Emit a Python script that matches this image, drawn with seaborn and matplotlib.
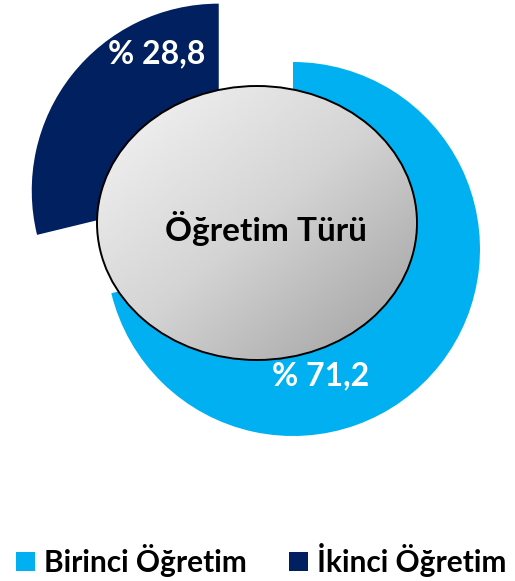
import numpy as np
import matplotlib.pyplot as plt
import seaborn as sns
from matplotlib.patches import Ellipse, Patch
from matplotlib.colors import LinearSegmentedColormap

# data
categories = ["Birinci Öğretim", "İkinci Öğretim"]
shares = [71.2, 28.8]
pct_labels = ["% 71,2", "% 28,8"]
center_title = "Öğretim Türü"

sns.set_theme(style="white")
plt.rcParams['font.family'] = ['Lato', 'DejaVu Sans']
plt.rcParams['text.color'] = 'black'
colors = sns.color_palette(["#00B0F0", "#002060"])

W, H = 515, 581
R = 187.0          # pie radius in pixels
cx, cy = 293, 249  # pie center in pixels


def px(x, y):
    # pixel position -> data coords of the pie axes
    return (x - cx) / R, (cy - y) / R


fig = plt.figure(figsize=(W / 100, H / 100), dpi=100)
ax = fig.add_axes([0, 0, 1, 1])

wedges, _ = ax.pie(shares, colors=colors, startangle=90, counterclock=False,
                   explode=[0, 0.505], radius=1,
                   wedgeprops=dict(linewidth=0))
ax.set_aspect('equal')
ax.axis('off')

# grey gradient ellipse in the middle
ex, ey = px(257, 223)
ew, eh = 320 / R, 274 / R
ell = Ellipse((ex, ey), ew, eh, facecolor='none', edgecolor='black',
              linewidth=1.4, zorder=4)
ax.add_patch(ell)
gx, gy = np.meshgrid(np.linspace(0, 1, 200), np.linspace(0, 1, 200))
grad = (gx + gy) / 2
cmap = LinearSegmentedColormap.from_list('g', ['#f6f6f6', '#d4d4d4', '#9e9e9e'])
im = ax.imshow(grad, cmap=cmap, origin='upper',
               extent=[ex - ew / 2, ex + ew / 2, ey - eh / 2, ey + eh / 2],
               zorder=3, interpolation='bilinear')
im.set_clip_path(ell)
ax.set_xlim(-cx / R, (W - cx) / R)
ax.set_ylim(-(H - cy) / R, cy / R)

ax.text(*px(266, 229), center_title, ha='center', va='center',
        fontsize=24, fontweight='bold', color='black', zorder=5)

# percentage labels
ax.text(*px(321, 376), pct_labels[0], ha='center', va='center',
        fontsize=23, fontweight='bold', color='white', zorder=5)
ax.text(*px(157, 54), pct_labels[1], ha='center', va='center',
        fontsize=23, fontweight='bold', color='white', zorder=5)

handles = [Patch(facecolor=c, edgecolor='none') for c in colors]
fig.legend(handles, categories, ncol=2, loc='center',
           bbox_to_anchor=(261 / W, 1 - 560 / H), frameon=False,
           handlelength=0.64, handleheight=0.64, handletextpad=0.3,
           columnspacing=1.4, borderaxespad=0, borderpad=0,
           prop=dict(weight='bold', size=21.5))

fig.savefig('out.png', dpi=100)
